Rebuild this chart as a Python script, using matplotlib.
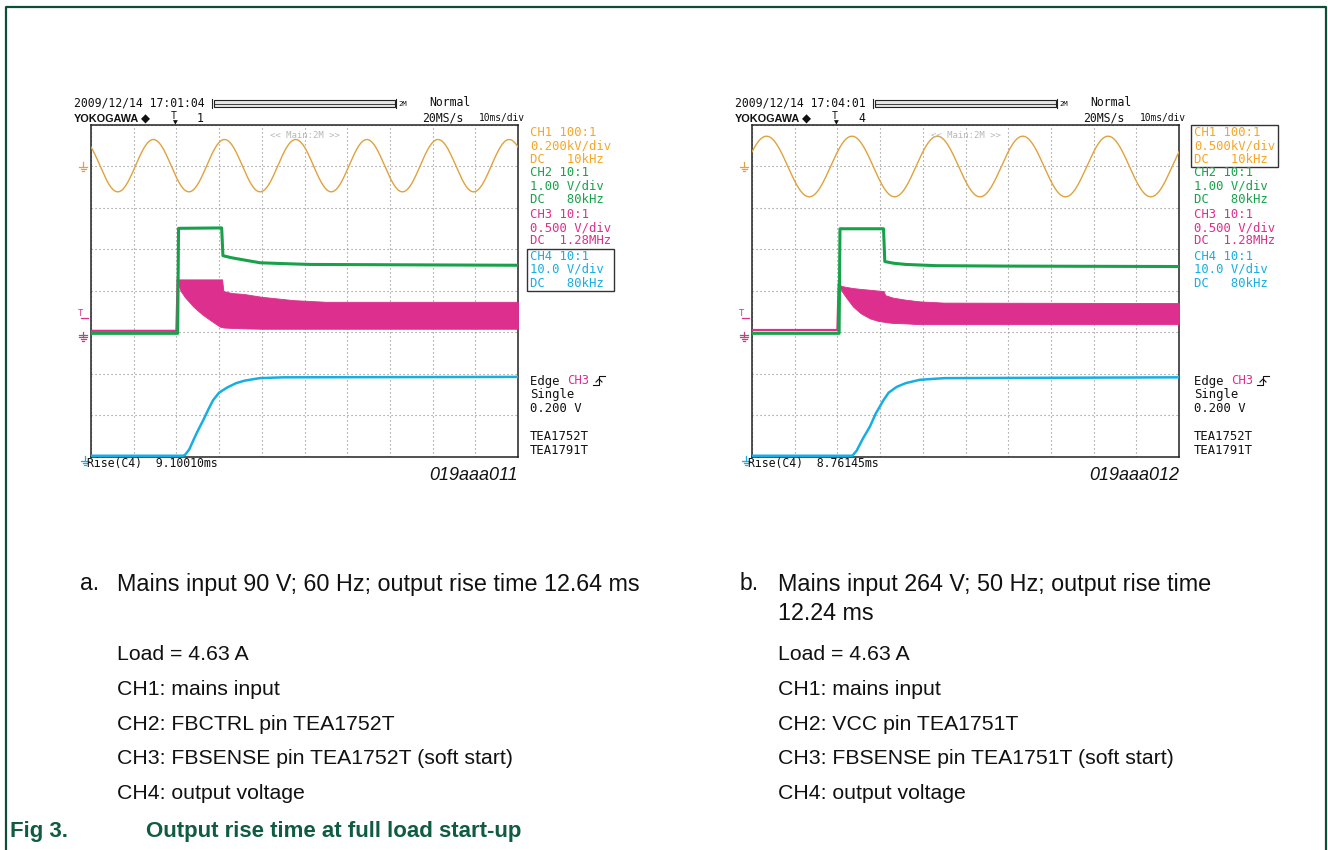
import numpy as np
import matplotlib
matplotlib.use("Agg")
import matplotlib.pyplot as plt
from matplotlib.lines import Line2D
from matplotlib.patches import Rectangle

# ---------------- data (time in ms, level in divisions from bottom) -------------
# Panel a
a_mains_freq_hz = 60.0
a_mains_center = 7.02
a_mains_amp = 0.63
a_mains_first_peak_ms = 14.6

a_ch2_t = [0, 20.3, 20.5, 30.6, 30.9, 33.0, 35.7, 39.6, 45.0, 51.3, 100]
a_ch2_v = [2.98, 2.98, 5.51, 5.52, 4.85, 4.80, 4.75, 4.68, 4.66, 4.64, 4.62]

a_ch3_base_t = [0, 20.0, 20.3]
a_ch3_base_v = [3.04, 3.04, 4.28]
a_ch3_t = [20.3, 21.0, 22.0, 24.0, 26.0, 27.9, 30.2, 30.7, 31.0, 33.0, 35.7, 40.0, 47.4, 55.0, 100]
a_ch3_top = [4.28, 4.28, 4.28, 4.28, 4.28, 4.28, 4.28, 4.28, 4.00, 3.95, 3.93, 3.86, 3.78, 3.74, 3.74]
a_ch3_bot = [4.20, 4.00, 3.85, 3.62, 3.44, 3.30, 3.14, 3.13, 3.12, 3.11, 3.10, 3.09, 3.09, 3.09, 3.09]

a_ch4_t = [0, 21.5, 22.0, 23.0, 24.0, 25.0, 26.3, 27.5, 28.6, 30.0, 30.9, 32.0, 34.0, 36.0, 39.5, 45.0, 100]
a_ch4_v = [0.03, 0.03, 0.05, 0.18, 0.41, 0.63, 0.89, 1.15, 1.37, 1.55, 1.61, 1.68, 1.78, 1.84, 1.90, 1.92, 1.93]

# Panel b
b_mains_freq_hz = 50.0
b_mains_center = 7.0
b_mains_amp = 0.73
b_mains_first_peak_ms = 3.4

b_ch2_t = [0, 20.4, 20.6, 30.8, 31.1, 33.1, 36.0, 43.2, 60.0, 100]
b_ch2_v = [2.98, 2.98, 5.50, 5.50, 4.71, 4.67, 4.64, 4.61, 4.60, 4.59]

b_ch3_base_t = [0, 20.0, 20.3]
b_ch3_base_v = [3.06, 3.06, 4.17]
b_ch3_t = [20.3, 21.0, 22.0, 23.7, 25.5, 27.6, 29.5, 30.8, 31.2, 33.0, 36.0, 39.3, 45.0, 100]
b_ch3_top = [4.17, 4.12, 4.10, 4.07, 4.05, 4.03, 4.01, 4.00, 3.90, 3.84, 3.79, 3.75, 3.72, 3.71]
b_ch3_bot = [4.15, 4.00, 3.85, 3.62, 3.46, 3.34, 3.28, 3.26, 3.25, 3.23, 3.22, 3.20, 3.20, 3.20]

b_ch4_t = [0, 23.5, 24.5, 26.0, 27.6, 29.0, 30.8, 32.0, 33.9, 36.0, 39.3, 45.0, 100]
b_ch4_v = [0.03, 0.03, 0.15, 0.45, 0.73, 1.05, 1.37, 1.55, 1.69, 1.78, 1.86, 1.90, 1.92]

# texts
a_datetime = "2009/12/14 17:01:04"
b_datetime = "2009/12/14 17:04:01"
a_count = "1"
b_count = "4"
a_ch1_scale = "0.200kV/div"
b_ch1_scale = "0.500kV/div"
a_rise = "Rise(C4)  9.10010ms"
b_rise = "Rise(C4)  8.76145ms"
a_code = "019aaa011"
b_code = "019aaa012"

a_caption = ["Mains input 90 V; 60 Hz; output rise time 12.64 ms"]
b_caption = ["Mains input 264 V; 50 Hz; output rise time", "12.24 ms"]
a_list = ["Load = 4.63 A", "CH1: mains input", "CH2: FBCTRL pin TEA1752T",
          "CH3: FBSENSE pin TEA1752T (soft start)", "CH4: output voltage"]
b_list = ["Load = 4.63 A", "CH1: mains input", "CH2: VCC pin TEA1751T",
          "CH3: FBSENSE pin TEA1751T (soft start)", "CH4: output voltage"]
fig_label = "Fig 3."
fig_title = "Output rise time at full load start-up"

# ---------------- styling ----------------
W, H = 1328, 850
C1 = "#E0A23C"
C1T = "#F5A623"
C2 = "#17A24A"
C3 = "#DC2F8E"
C4 = "#17AEE3"
FRAME = "#0E4D3A"
TITLE = "#0F5C42"
MONO = "DejaVu Sans Mono"
SANS = "Liberation Sans"
MS = 8.8

fig = plt.figure(figsize=(W / 100, H / 100), dpi=100)


def fx(x):
    return x / W


def fy(y):
    return 1 - y / H


def T(x, y, s, **kw):
    kw.setdefault("va", "center")
    kw.setdefault("ha", "left")
    return fig.text(fx(x), fy(y), s, **kw)


def L(xs, ys, **kw):
    fig.add_artist(Line2D([fx(v) for v in xs], [fy(v) for v in ys],
                          transform=fig.transFigure, **kw))


def ground(x, y, color):
    L([x, x], [y - 5, y], color=color, lw=0.9)
    L([x - 4, x + 4], [y, y], color=color, lw=0.9)
    L([x - 2.5, x + 2.5], [y + 2, y + 2], color=color, lw=0.9)
    L([x - 1, x + 1], [y + 4, y + 4], color=color, lw=0.9)


# outer frame (open at bottom)
L([5.5, 5.5, 1325.5, 1325.5], [850, 7, 7, 850], color=FRAME, lw=1.6)

panels = [
    dict(x0=91, x1=518, col_x=530, dt=a_datetime, cnt=a_count, ch1s=a_ch1_scale,
         f=a_mains_freq_hz, c=a_mains_center, amp=a_mains_amp, pk=a_mains_first_peak_ms,
         ch2t=a_ch2_t, ch2v=a_ch2_v, bt=a_ch3_base_t, bv=a_ch3_base_v,
         ch3t=a_ch3_t, top=a_ch3_top, bot=a_ch3_bot, ch4t=a_ch4_t, ch4v=a_ch4_v,
         rise=a_rise, code=a_code, boxed=9, label="a.", cap=a_caption, lst=a_list,
         lab_x=80, cap_x=117),
    dict(x0=752, x1=1179, col_x=1194, dt=b_datetime, cnt=b_count, ch1s=b_ch1_scale,
         f=b_mains_freq_hz, c=b_mains_center, amp=b_mains_amp, pk=b_mains_first_peak_ms,
         ch2t=b_ch2_t, ch2v=b_ch2_v, bt=b_ch3_base_t, bv=b_ch3_base_v,
         ch3t=b_ch3_t, top=b_ch3_top, bot=b_ch3_bot, ch4t=b_ch4_t, ch4v=b_ch4_v,
         rise=b_rise, code=b_code, boxed=0, label="b.", cap=b_caption, lst=b_list,
         lab_x=740, cap_x=778),
]

y0, y1 = 125, 457
for p in panels:
    x0, x1 = p["x0"], p["x1"]
    off = x0 - 91
    ax = fig.add_axes([fx(x0), fy(y1), (x1 - x0) / W, (y1 - y0) / H])
    ax.set_xlim(0, 100)
    ax.set_ylim(0, 8)
    ax.set_xticks(np.arange(0, 101, 10))
    ax.set_yticks(np.arange(0, 9, 1))
    ax.tick_params(length=0, labelbottom=False, labelleft=False)
    ax.grid(True, color="#8a8a8a", linestyle=(0, (1, 2.6)), linewidth=0.8)
    for s in ax.spines.values():
        s.set_color("#222222")
        s.set_linewidth(1.1)

    # CH1 mains sine (parameters)
    t = np.linspace(0, 100, 3000)
    period = 1000.0 / p["f"]
    ax.plot(t, p["c"] + p["amp"] * np.cos(2 * np.pi * (t - p["pk"]) / period),
            color=C1, lw=1.0, zorder=3)
    # CH3 soft start band
    ax.plot(p["bt"], p["bv"], color=C3, lw=1.6, zorder=4)
    ax.fill_between(p["ch3t"], p["bot"], p["top"], color=C3, lw=0.6, zorder=4)
    # CH2
    ax.plot(p["ch2t"], p["ch2v"], color=C2, lw=2.2, zorder=5)
    # CH4
    ax.plot(p["ch4t"], p["ch4v"], color=C4, lw=1.8, zorder=6)

    ax.text(0.5, 0.982, "<< Main:2M >>", transform=ax.transAxes, ha="center", va="top",
            fontsize=6.5, color="#b8b8b8", family=MONO)

    # header
    T(74 + off, 103, p["dt"], family=MONO, fontsize=8.3, color="#111111")
    T(74 + off, 119, "YOKOGAWA", family="Liberation Sans", fontsize=7.8,
      fontweight="bold", color="#111111")
    T(141 + off, 119, "\u25c6", family="DejaVu Sans", fontsize=8.5, color="#111111")
    T(197 + off, 118, p["cnt"], family=MONO, fontsize=8.3, color="#111111")
    # trigger position marker
    T(173.5 + off, 116, "T", family=MONO, fontsize=7, color="#111111", ha="center")
    T(175 + off, 123, "\u25bc", family="DejaVu Sans", fontsize=4.5, color="#111111",
      ha="center")
    # record bar
    fig.add_artist(Rectangle((fx(214 + off), fy(107)), (181) / W, 7 / H,
                             transform=fig.transFigure, facecolor="#e6e6e6",
                             edgecolor="#222222", lw=0.8))
    L([214 + off, 395 + off], [103.5, 103.5], color="#222222", lw=0.6)
    L([212 + off, 212 + off], [99, 108], color="#222222", lw=0.8)
    L([396 + off, 396 + off], [99, 108], color="#222222", lw=0.8)
    T(398 + off, 104, "2M", family=MONO, fontsize=5.2, color="#111111")
    T(429 + off, 103, "Normal", family=MONO, fontsize=8.3, color="#111111")
    T(422 + off, 118, "20MS/s", family=MONO, fontsize=8.3, color="#111111")
    T(479 + off, 118, "10ms/div", family=MONO, fontsize=6.9, color="#111111")

    # channel settings column
    cx = p["col_x"]
    col_lines = [("CH1 100:1", C1T), (p["ch1s"], C1T), ("DC   10kHz", C1T),
                 ("CH2 10:1", C2), ("1.00 V/div", C2), ("DC   80kHz", C2),
                 ("CH3 10:1", C3), ("0.500 V/div", C3), ("DC  1.28MHz", C3),
                 ("CH4 10:1", C4), ("10.0 V/div", C4), ("DC   80kHz", C4)]
    ys = [132.7, 146, 159.3, 172.7, 186, 199.3, 214.3, 227.7, 241, 256, 269.3, 283.3]
    for (s, c), yy in zip(col_lines, ys):
        T(cx, yy, s, family=MONO, fontsize=MS, color=c)
    bi = p["boxed"]
    bx0, bx1 = cx - 3.5, cx + 84
    by0, by1 = ys[bi] - 7.5, ys[bi + 2] + 8
    fig.add_artist(Rectangle((fx(bx0), fy(by1)), (bx1 - bx0) / W, (by1 - by0) / H,
                             transform=fig.transFigure, facecolor="none",
                             edgecolor="#333333", lw=1.0))

    # trigger text
    T(cx, 381, "Edge ", family=MONO, fontsize=MS, color="#111111")
    T(cx + 37, 381, "CH3", family=MONO, fontsize=MS, color=C3)
    L([cx + 63, cx + 69, cx + 69, cx + 75], [385, 385, 376, 376], color="#111111", lw=0.8)
    L([cx + 66, cx + 69, cx + 72], [382, 379, 382], color="#111111", lw=0.8)
    T(cx, 394.5, "Single", family=MONO, fontsize=MS, color="#111111")
    T(cx, 408, "0.200 V", family=MONO, fontsize=MS, color="#111111")
    T(cx, 436, "TEA1752T", family=MONO, fontsize=MS, color="#111111")
    T(cx, 450, "TEA1791T", family=MONO, fontsize=MS, color="#111111")

    # ground / trigger-level markers
    ground(83 + off, 167, C1)
    ground(83 + off, 337, C3)
    L([79 + off, 87 + off], [335, 335], color=C2, lw=0.9)
    T(81 + off, 313, "T", family=MONO, fontsize=6.5, color=C3, ha="center")
    L([81 + off, 88 + off], [318, 318], color=C3, lw=0.9)
    ground(85 + off, 461, C4)

    T(87 + off, 464, p["rise"], family=MONO, fontsize=8.3, color="#111111")
    T(x1, 475, p["code"], family=SANS, fontsize=13, style="italic", color="#111111",
      ha="right")

    # captions
    T(p["lab_x"], 584, p["label"], family=SANS, fontsize=16.5, color="#111111")
    for i, s in enumerate(p["cap"]):
        T(p["cap_x"], 584 + i * 29, s, family=SANS, fontsize=16.8, color="#111111")
    for i, s in enumerate(p["lst"]):
        T(p["cap_x"], 655 + i * 34.6, s, family=SANS, fontsize=15.3, color="#111111")

T(10, 832, fig_label, family=SANS, fontsize=16, fontweight="bold", color=TITLE)
T(146, 832, fig_title, family=SANS, fontsize=16, fontweight="bold", color=TITLE)

fig.savefig("out.png", dpi=100, facecolor="white")
